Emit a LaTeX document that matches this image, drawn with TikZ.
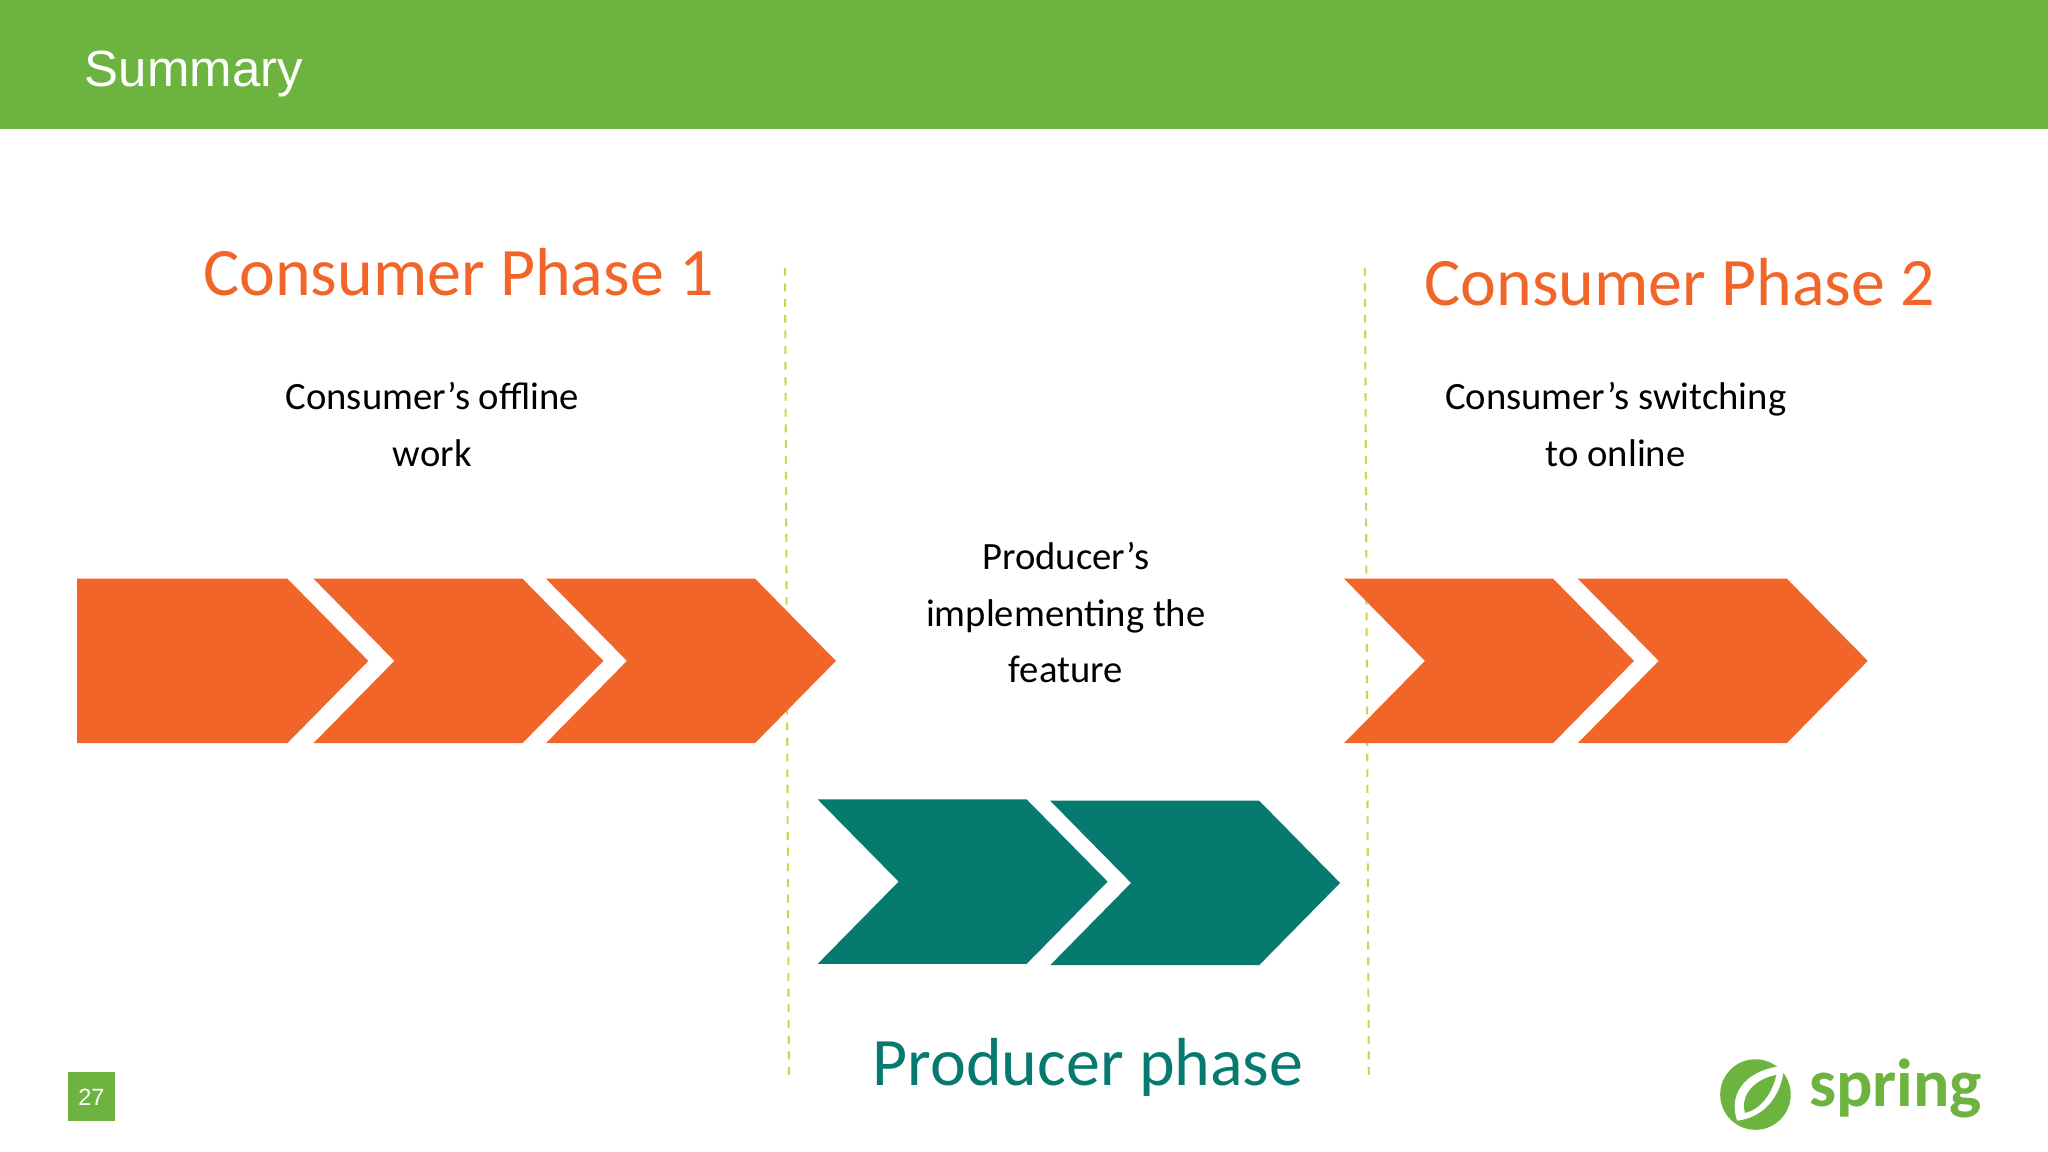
\documentclass[tikz,border=0pt]{standalone}
\usepackage{fontspec}
\setmainfont{Carlito}
\newfontfamily\arialf{Liberation Sans}
\definecolor{sgreen}{HTML}{6DB33F}
\definecolor{sorange}{HTML}{F26529}
\definecolor{steal}{HTML}{067A6F}
\definecolor{dashcol}{HTML}{C8D850}
\begin{document}
\begin{tikzpicture}[x=0.5pt,y=-0.5pt,
  body/.style={font=\fontsize{14.8}{21.5}\selectfont,align=center,text=black},
  head/.style={font=\fontsize{26}{30}\selectfont,text=sorange},
  sep/.style={dashcol,dashed,line width=0.8pt}]
\useasboundingbox (0,0) rectangle (1568,882);
\fill[white] (0,0) rectangle (1568,882);
\fill[sgreen] (0,0) rectangle (1568,99);
\node[anchor=west,text=white,font=\arialf\fontsize{19.5}{22}\selectfont] (title) at (58,57) {Summary};
% dashed lines
\draw[sep] (601,205) -- (604,825);
\draw[sep] (1045,205) -- (1048,825);
% chevrons
\def\first#1#2#3#4{\fill[#4] (#1,#3) -- ({#1+161},#3) -- ({#1+223},{#3+63}) -- ({#1+161},{#3+126}) -- (#1,{#3+126}) -- cycle;}
\def\chev#1#2#3{\fill[#2] (#1,#3) -- ({#1+160},#3) -- ({#1+222},{#3+63}) -- ({#1+160},{#3+126}) -- (#1,{#3+126}) -- ({#1+62},{#3+63}) -- cycle;}
\first{59}{0}{443}{sorange}
\chev{240}{sorange}{443}
\chev{418}{sorange}{443}
\chev{1029}{sorange}{443}
\chev{1208}{sorange}{443}
\chev{626}{steal}{612}
\chev{804}{steal}{613}
% texts
\node[head] (c1) at (351,208) {Consumer Phase 1};
\node[head] (c2) at (1286,216) {Consumer Phase 2};
\node[head,text=steal] (pp) at (833,817) {Producer phase};
\node[body] (t1) at (331,325) {Consumer’s offline\\work};
\node[body] (t2) at (1237,325) {Consumer’s switching\\to online};
\node[body] (t3) at (816,469) {Producer’s\\implementing the\\feature};
% page number
\fill[sgreen] (52,821) rectangle (88,858);
\node[text=white,font=\arialf\fontsize{9}{10}\selectfont] (pg) at (70,840) {27};
% spring logo
\fill[sgreen] (1344,838) circle (27);
\fill[white] (1330,858) .. controls (1322,835) and (1340,818) .. (1366,816) .. controls (1364,842) and (1348,856) .. (1330,858) -- cycle;
\fill[sgreen] (1336,852) .. controls (1332,838) and (1344,826) .. (1360,823) .. controls (1356,840) and (1346,850) .. (1336,852) -- cycle;
\node[text=sgreen,font=\fontsize{26}{28}\bfseries\selectfont,anchor=west] (sp) at (1378,833) {spring};
\end{tikzpicture}
\end{document}
